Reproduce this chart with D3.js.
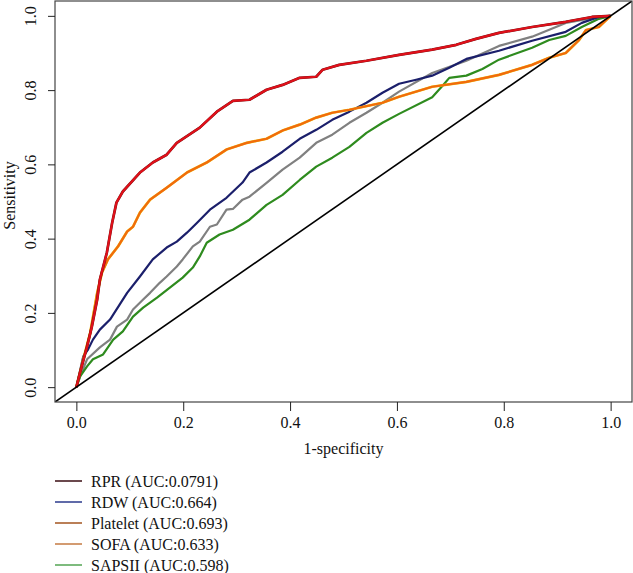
<!DOCTYPE html>
<html>
<head>
<meta charset="utf-8">
<script src="https://cdn.jsdelivr.net/npm/d3@7"></script>
<style>
  body { margin: 0; background: #fff; }
  svg { display: block; font-family: "Liberation Serif", "DejaVu Serif", serif; }
</style>
</head>
<body>
<svg id="chart" width="633" height="573"></svg>
<script>
// ROC curves, [1-specificity, sensitivity]
const redCurve = [
  [0, 0], [0.007, 0.04], [0.02, 0.109], [0.029, 0.163], [0.039, 0.236], [0.044, 0.29],
  [0.057, 0.362], [0.067, 0.443], [0.075, 0.497], [0.087, 0.527], [0.119, 0.578],
  [0.143, 0.605], [0.169, 0.626], [0.188, 0.658], [0.231, 0.699], [0.263, 0.742],
  [0.293, 0.771], [0.324, 0.774], [0.356, 0.801], [0.386, 0.814], [0.418, 0.833],
  [0.449, 0.836], [0.461, 0.855], [0.492, 0.868], [0.543, 0.879], [0.604, 0.895],
  [0.666, 0.909], [0.711, 0.922], [0.748, 0.938], [0.791, 0.954], [0.853, 0.97],
  [0.916, 0.984], [0.965, 0.997], [1, 1]
];
const orangeCurve = [
  [0, 0], [0.013, 0.075], [0.026, 0.147], [0.039, 0.254], [0.048, 0.309], [0.059, 0.344],
  [0.078, 0.379], [0.095, 0.419], [0.106, 0.432], [0.119, 0.47], [0.138, 0.505],
  [0.169, 0.537], [0.207, 0.578], [0.244, 0.605], [0.281, 0.64], [0.319, 0.658],
  [0.356, 0.669], [0.386, 0.691], [0.418, 0.707], [0.449, 0.726], [0.479, 0.739],
  [0.511, 0.747], [0.573, 0.766], [0.604, 0.782], [0.666, 0.809], [0.73, 0.822],
  [0.791, 0.841], [0.853, 0.868], [0.885, 0.887], [0.916, 0.9], [0.941, 0.935],
  [0.954, 0.962], [0.978, 0.97], [1, 1]
];
const navyCurve = [
  [0, 0], [0.013, 0.083], [0.022, 0.102], [0.031, 0.128], [0.044, 0.155], [0.063, 0.182],
  [0.095, 0.254], [0.119, 0.298], [0.143, 0.344], [0.169, 0.376], [0.188, 0.392],
  [0.207, 0.416], [0.226, 0.443], [0.25, 0.478], [0.281, 0.51], [0.311, 0.551],
  [0.324, 0.578], [0.356, 0.605], [0.386, 0.634], [0.418, 0.669], [0.449, 0.693],
  [0.479, 0.72], [0.511, 0.742], [0.543, 0.766], [0.573, 0.793], [0.604, 0.817],
  [0.636, 0.828], [0.666, 0.839], [0.698, 0.86], [0.73, 0.884], [0.791, 0.906],
  [0.853, 0.933], [0.916, 0.957], [0.946, 0.981], [0.978, 0.997], [1, 1]
];
const grayCurve = [
  [0, 0], [0.007, 0.029], [0.02, 0.075], [0.044, 0.107], [0.063, 0.128], [0.076, 0.163],
  [0.095, 0.182], [0.106, 0.209], [0.125, 0.236], [0.138, 0.254], [0.156, 0.281],
  [0.169, 0.298], [0.188, 0.325], [0.199, 0.344], [0.218, 0.379], [0.231, 0.392],
  [0.25, 0.432], [0.263, 0.438], [0.281, 0.478], [0.293, 0.48], [0.311, 0.505],
  [0.324, 0.513], [0.356, 0.55], [0.386, 0.586], [0.418, 0.618], [0.449, 0.658],
  [0.479, 0.68], [0.511, 0.712], [0.543, 0.739], [0.573, 0.766], [0.604, 0.796],
  [0.666, 0.846], [0.73, 0.879], [0.791, 0.919], [0.853, 0.944], [0.916, 0.981],
  [0.978, 0.997], [1, 1]
];
const greenCurve = [
  [0, 0], [0.007, 0.029], [0.02, 0.056], [0.031, 0.075], [0.05, 0.088], [0.069, 0.128],
  [0.087, 0.15], [0.106, 0.19], [0.125, 0.214], [0.151, 0.241], [0.175, 0.268],
  [0.199, 0.295], [0.218, 0.322], [0.231, 0.352], [0.244, 0.389], [0.268, 0.411],
  [0.293, 0.424], [0.324, 0.451], [0.356, 0.491], [0.386, 0.518], [0.418, 0.558],
  [0.449, 0.594], [0.479, 0.618], [0.511, 0.647], [0.543, 0.685], [0.573, 0.712],
  [0.604, 0.736], [0.666, 0.781], [0.685, 0.811], [0.698, 0.833], [0.73, 0.839],
  [0.76, 0.857], [0.791, 0.882], [0.853, 0.914], [0.885, 0.935], [0.916, 0.946],
  [0.946, 0.97], [0.978, 0.992], [1, 1]
];

const ticks = [0, 0.2, 0.4, 0.6, 0.8, 1.0];
const legendLabels = [
  "RPR (AUC:0.0791)",
  "RDW (AUC:0.664)",
  "Platelet (AUC:0.693)",
  "SOFA (AUC:0.633)",
  "SAPSII (AUC:0.598)"
];
const legendColors = ["#3a0c12", "#2b3a8c", "#a3541f", "#c57a42", "#53a553"];

const curves = [
  { data: grayCurve, color: "#808080" },
  { data: greenCurve, color: "#2e8b1e" },
  { data: navyCurve, color: "#1b1f6b" },
  { data: orangeCurve, color: "#f26a0c", edge: "#e8c010" },
  { data: redCurve, color: "#e0101a", edge: "#6a1010" }
];

const fontSize = 16;
const svg = d3.select("#chart");
const box = { left: 55, right: 632, top: 1, bottom: 402 };

const x = d3.scaleLinear().domain([-0.04, 1.04]).range([box.left, box.right]);
const y = d3.scaleLinear().domain([-0.04, 1.04]).range([box.bottom, box.top]);

// clip to the plot box
svg.append("clipPath").attr("id", "clip")
  .append("rect")
  .attr("x", box.left).attr("y", box.top)
  .attr("width", box.right - box.left).attr("height", box.bottom - box.top);

const line = d3.line()
  .x((d) => x(d[0]))
  .y((d) => y(d[1]));

const lines = svg.append("g").attr("clip-path", "url(#clip)");

curves.forEach((c) => {
  if (c.edge) {
    lines.append("path")
      .datum(c.data)
      .attr("fill", "none")
      .attr("stroke", c.edge)
      .attr("stroke-width", 2.7)
      .attr("stroke-linejoin", "round")
      .attr("d", line);
  }
  lines.append("path")
    .datum(c.data)
    .attr("fill", "none")
    .attr("stroke", c.color)
    .attr("stroke-width", 2.2)
    .attr("stroke-linejoin", "round")
    .attr("d", line);
});

// diagonal reference line
lines.append("line")
  .attr("x1", x(-0.04)).attr("y1", y(-0.04))
  .attr("x2", x(1.04)).attr("y2", y(1.04))
  .attr("stroke", "#000")
  .attr("stroke-width", 1.6);

// frame
svg.append("rect")
  .attr("x", box.left).attr("y", box.top)
  .attr("width", box.right - box.left).attr("height", box.bottom - box.top)
  .attr("fill", "none")
  .attr("stroke", "#444")
  .attr("stroke-width", 1.2);

// x axis
const xAxis = svg.append("g")
  .attr("transform", `translate(0, ${box.bottom})`)
  .call(d3.axisBottom(x).tickValues(ticks).tickSize(9).tickPadding(6)
    .tickFormat(d3.format(".1f")));
xAxis.select(".domain").remove();
xAxis.selectAll("text").attr("font-size", fontSize).attr("fill", "#111")
  .attr("font-family", "Liberation Serif");
xAxis.selectAll("line").attr("stroke", "#222");

// y axis, labels parallel to the axis
const yAxis = svg.append("g")
  .attr("transform", `translate(${box.left}, 0)`)
  .call(d3.axisLeft(y).tickValues(ticks).tickSize(7).tickFormat(d3.format(".1f")));
yAxis.select(".domain").remove();
yAxis.selectAll("line").attr("stroke", "#222");
yAxis.selectAll("text")
  .attr("font-size", fontSize).attr("fill", "#111")
  .attr("font-family", "Liberation Serif")
  .attr("x", null).attr("dy", null)
  .attr("text-anchor", "middle")
  .attr("transform", "translate(-19, 0) rotate(-90)");

// axis titles
svg.append("text")
  .attr("x", (box.left + box.right) / 2)
  .attr("y", 454)
  .attr("text-anchor", "middle")
  .attr("font-size", fontSize)
  .attr("fill", "#111")
  .text("1-specificity");

svg.append("text")
  .attr("transform", `translate(15, ${(box.top + box.bottom) / 2 - 6}) rotate(-90)`)
  .attr("text-anchor", "middle")
  .attr("font-size", fontSize)
  .attr("fill", "#111")
  .text("Sensitivity");

// legend
const legend = svg.append("g").attr("transform", "translate(55, 481)");
legendLabels.forEach((label, i) => {
  const row = legend.append("g").attr("transform", `translate(0, ${i * 21})`);
  row.append("line")
    .attr("x1", 0).attr("x2", 27)
    .attr("stroke", legendColors[i])
    .attr("stroke-width", 1.5);
  row.append("text")
    .attr("x", 36)
    .attr("dy", "0.35em")
    .attr("font-size", fontSize)
    .attr("fill", "#111")
    .text(label);
});
</script>
</body>
</html>
